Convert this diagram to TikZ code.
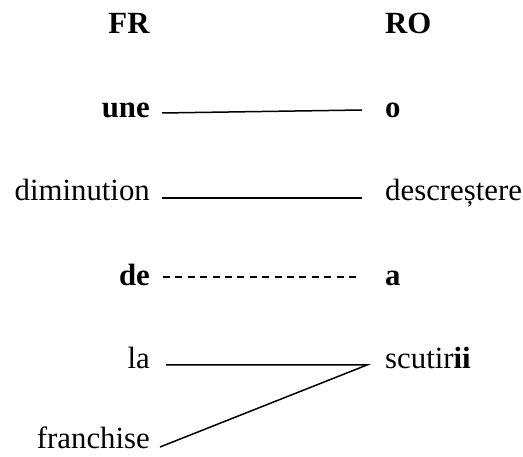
\documentclass[tikz,border=0pt]{standalone}
\usepackage{fontspec}
\setmainfont{Liberation Serif}
\newfontfamily\timesfont{Liberation Serif}
\begin{document}
\begin{tikzpicture}[x=1pt,y=1pt,
  word/.style={inner sep=0pt,font=\timesfont\fontsize{30.8}{36}\selectfont},
  fr/.style={word,anchor=base east},
  ro/.style={word,anchor=base west},
  link/.style={line width=1.5pt},
  weak/.style={link,dash pattern=on 7pt off 5.4pt}]
\useasboundingbox (0,0) rectangle (523,-457);
% headers
\node[fr] (hfr) at (150,-34) {\textbf{FR}};
\node[ro] (hro) at (385,-34) {\textbf{RO}};
% French words
\node[fr] (une) at (150,-118) {\textbf{une}};
\node[fr] (dim) at (150,-201) {diminution};
\node[fr] (de)  at (150,-286) {\textbf{de}};
\node[fr] (la)  at (150,-369) {la};
\node[fr] (fra) at (150,-449) {franchise};
% Romanian words
\node[ro] (o)   at (385,-118) {\textbf{o}};
\node[ro] (des) at (385,-201) {descreștere};
\node[ro] (a)   at (385,-286) {\textbf{a}};
\node[ro] (scu) at (385,-369) {scutir\textbf{ii}};
% links
\draw[link] ([xshift=12pt,yshift=5pt]une.base east) -- ([xshift=-23pt,yshift=8pt]o.base west);
\draw[link] ([xshift=12pt,yshift=3pt]dim.base east) -- ([xshift=-23pt,yshift=3pt]des.base west);
\draw[weak] ([xshift=13pt,yshift=9pt]de.base east) -- ([xshift=-25pt,yshift=9pt]a.base west);
\draw[link] ([xshift=16pt,yshift=4pt]la.base east) -- ([xshift=-18pt,yshift=4pt]scu.base west)
            -- ([xshift=10pt,yshift=2pt]fra.base east);
\end{tikzpicture}
\end{document}
